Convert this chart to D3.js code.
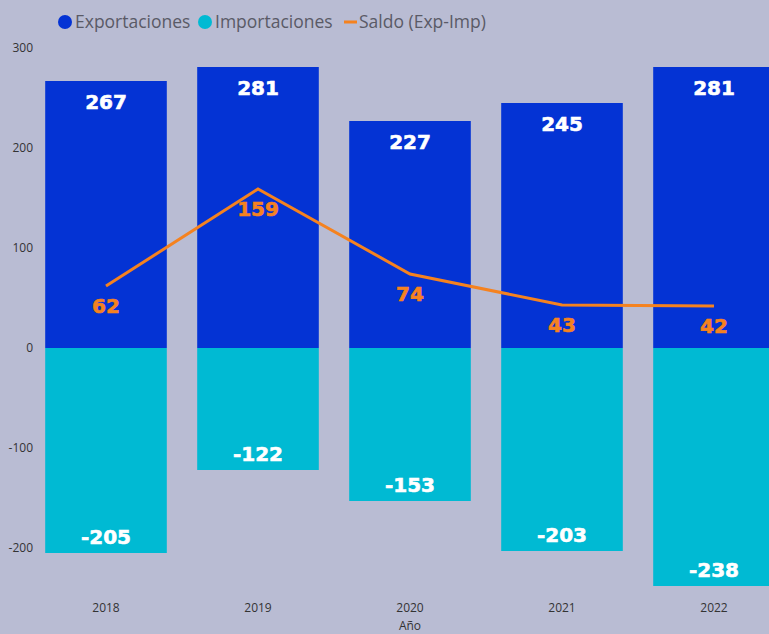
<!DOCTYPE html>
<html>
<head>
<meta charset="utf-8">
<script src="https://cdn.jsdelivr.net/npm/d3@7"></script>
<style>
  html, body { margin: 0; padding: 0; background: #b9bcd3; overflow: hidden; }
</style>
</head>
<body>
<div id="chart"></div>
<script>
// values
const years = ["2018", "2019", "2020", "2021", "2022"];
const exportaciones = [267, 281, 227, 245, 281];
const importaciones = [-205, -122, -153, -203, -238];
const saldo = [62, 159, 74, 43, 42];
const yTicks = [-200, -100, 0, 100, 200, 300];

const width = 769, height = 634;
const colExp = "#0433d4", colImp = "#00bad3", colSaldo = "#f5821f";

let svg = d3.select("#chart")
    .append("svg")
    .attr("width", width)
    .attr("height", height);

let x = d3.scaleBand()
    .domain(years)
    .range([30, 790])
    .paddingInner(0.2)
    .paddingOuter(0.1);

let y = d3.scaleLinear()
    .domain([-238, 300])
    .range([586, 48]);

// y axis labels only, no lines
svg.append("g")
    .selectAll("text")
    .data(yTicks)
    .enter()
    .append("text")
    .attr("x", 33)
    .attr("y", d => y(d) + 4)
    .attr("text-anchor", "end")
    .attr("font-family", "Open Sans, sans-serif")
    .attr("font-size", 12)
    .attr("fill", "#333")
    .text(d => d);

// x axis labels
svg.append("g")
    .selectAll("text")
    .data(years)
    .enter()
    .append("text")
    .attr("x", d => x(d) + x.bandwidth() / 2)
    .attr("y", 612)
    .attr("text-anchor", "middle")
    .attr("font-family", "Open Sans, sans-serif")
    .attr("font-size", 12)
    .attr("fill", "#333")
    .text(d => d);

svg.append("text")
    .attr("x", x("2020") + x.bandwidth() / 2)
    .attr("y", 630)
    .attr("text-anchor", "middle")
    .attr("font-family", "Open Sans, sans-serif")
    .attr("font-size", 12)
    .attr("fill", "#333")
    .text("Año");

// bars
svg.append("g")
    .selectAll("rect")
    .data(years)
    .enter()
    .append("rect")
    .attr("x", d => x(d))
    .attr("y", (d, i) => y(exportaciones[i]))
    .attr("width", x.bandwidth())
    .attr("height", (d, i) => y(0) - y(exportaciones[i]))
    .attr("fill", colExp);

svg.append("g")
    .selectAll("rect")
    .data(years)
    .enter()
    .append("rect")
    .attr("x", d => x(d))
    .attr("y", y(0))
    .attr("width", x.bandwidth())
    .attr("height", (d, i) => y(importaciones[i]) - y(0))
    .attr("fill", colImp);

// bar labels
const labelFont = "DejaVu Sans, Verdana, sans-serif";

function boldLabel(sel, color) {
    sel.attr("text-anchor", "middle")
        .attr("font-family", labelFont)
        .attr("font-weight", "bold")
        .attr("font-size", 20)
        .attr("fill", color)
        .attr("stroke", color)
        .attr("stroke-width", 0.6);
}

svg.append("g")
    .selectAll("text")
    .data(years)
    .enter()
    .append("text")
    .attr("x", d => x(d) + x.bandwidth() / 2)
    .attr("y", (d, i) => y(exportaciones[i]) + 28)
    .call(boldLabel, "white")
    .text((d, i) => exportaciones[i]);

svg.append("g")
    .selectAll("text")
    .data(years)
    .enter()
    .append("text")
    .attr("x", d => x(d) + x.bandwidth() / 2)
    .attr("y", (d, i) => y(importaciones[i]) - 9)
    .call(boldLabel, "white")
    .text((d, i) => importaciones[i]);

// saldo line
let line = d3.line()
    .x((d, i) => x(years[i]) + x.bandwidth() / 2)
    .y(d => y(d));

svg.append("path")
    .datum(saldo)
    .attr("d", line)
    .attr("fill", "none")
    .attr("stroke", colSaldo)
    .attr("stroke-width", 3);

svg.append("g")
    .selectAll("text")
    .data(saldo)
    .enter()
    .append("text")
    .attr("x", (d, i) => x(years[i]) + x.bandwidth() / 2)
    .attr("y", d => y(d) + 27)
    .call(boldLabel, colSaldo)
    .text(d => d);

// legend
let legend = svg.append("g")
    .attr("font-family", "Open Sans, sans-serif")
    .attr("font-size", 17.5)
    .attr("fill", "#5a5a66");

legend.append("circle").attr("cx", 65).attr("cy", 22).attr("r", 7).attr("fill", colExp);
legend.append("text").attr("x", 75).attr("y", 28).text("Exportaciones");
legend.append("circle").attr("cx", 205).attr("cy", 22).attr("r", 7).attr("fill", colImp);
legend.append("text").attr("x", 215).attr("y", 28).text("Importaciones");
legend.append("line").attr("x1", 344).attr("x2", 357).attr("y1", 22).attr("y2", 22)
    .attr("stroke", colSaldo).attr("stroke-width", 3);
legend.append("text").attr("x", 359).attr("y", 28).text("Saldo (Exp-Imp)");
</script>
</body>
</html>
